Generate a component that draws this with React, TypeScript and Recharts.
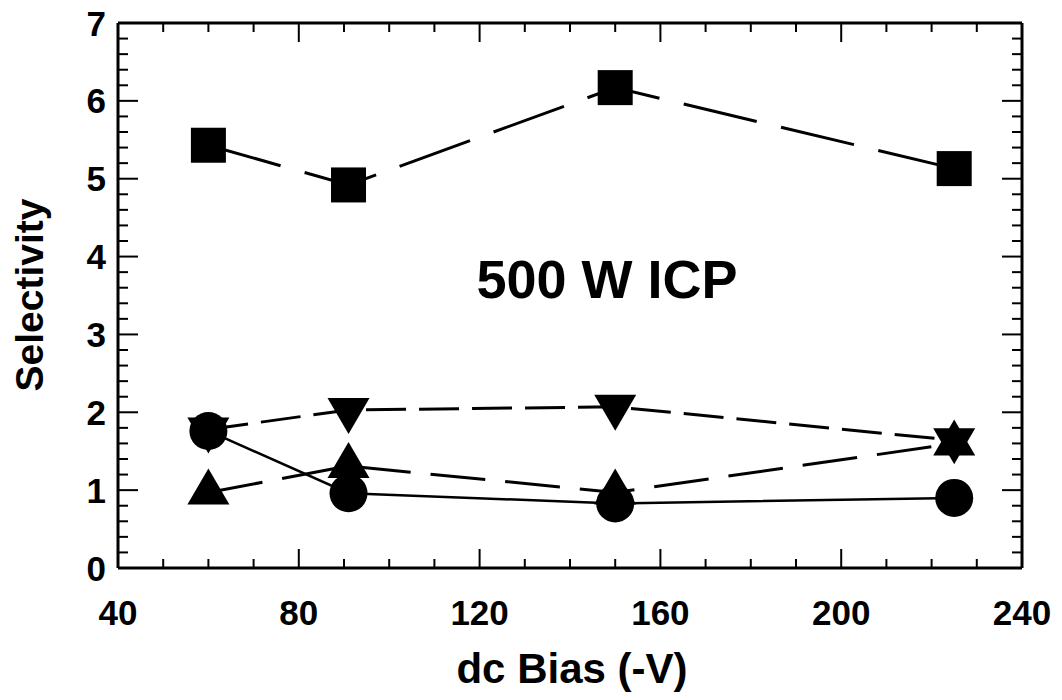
import React from "react";
import { LineChart, Line, XAxis, YAxis, Customized } from "recharts";

// dc bias values (-V) shared by every series
const biasVoltage = [60, 91, 150, 225];
const squareSelectivity = [5.43, 4.92, 6.17, 5.13];
const downTriangleSelectivity = [1.78, 2.03, 2.07, 1.64];
const upTriangleSelectivity = [0.97, 1.31, 0.97, 1.6];
const circleSelectivity = [1.76, 0.96, 0.83, 0.9];

const xMajorTicks = [40, 80, 120, 160, 200, 240];
const yMajorTicks = [0, 1, 2, 3, 4, 5, 6, 7];

const xMinorTicks = Array.from({ length: 21 }, (_, i) => 40 + i * 10);
const yMinorTicks = Array.from({ length: 36 }, (_, i) => Math.round(i * 2) / 10);

const W = 1062;
const H = 700;
const LEFT = 118;
const RIGHT = 1022;
const TOP = 23;
const BOTTOM = 568;
const FONT = "'Liberation Sans', Arial, Helvetica, sans-serif";

const toRows = (ys: number[]) => biasVoltage.map((x, i) => ({ x, y: ys[i] }));

const isXMajor = (v: number) => xMajorTicks.includes(v);
const isYMajor = (v: number) => yMajorTicks.some((m) => Math.abs(m - v) < 1e-6);

function BottomTick({ x, payload }: any) {
  const major = isXMajor(payload.value);
  return (
    <g>
      <line x1={x} x2={x} y1={BOTTOM} y2={BOTTOM - (major ? 19 : 9)} stroke="#000" strokeWidth={2} />
      {major && (
        <text x={x} y={625} textAnchor="middle" fontSize={35} fontWeight="bold" fontFamily={FONT} fill="#000">
          {payload.value}
        </text>
      )}
    </g>
  );
}

function TopTick({ x, payload }: any) {
  const major = isXMajor(payload.value);
  return <line x1={x} x2={x} y1={TOP} y2={TOP + (major ? 19 : 9)} stroke="#000" strokeWidth={2} />;
}

function LeftTick({ y, payload }: any) {
  const major = isYMajor(payload.value);
  return (
    <g>
      <line x1={LEFT} x2={LEFT + (major ? 20 : 10)} y1={y} y2={y} stroke="#000" strokeWidth={2} />
      {major && (
        <text x={106} y={y} dy="0.36em" textAnchor="end" fontSize={35} fontWeight="bold" fontFamily={FONT} fill="#000">
          {Math.round(payload.value)}
        </text>
      )}
    </g>
  );
}

function RightTick({ y, payload }: any) {
  const major = isYMajor(payload.value);
  return <line x1={RIGHT} x2={RIGHT - (major ? 20 : 10)} y1={y} y2={y} stroke="#000" strokeWidth={2} />;
}

const squareDot = ({ cx, cy, index }: any) => (
  <rect key={`sq-${index}`} x={cx - 17.5} y={cy - 17.5} width={35} height={35} fill="#000" />
);

const circleDot = ({ cx, cy, index }: any) => <circle key={`ci-${index}`} cx={cx} cy={cy} r={19} fill="#000" />;

// triangles centred on their centroid
const upDot = ({ cx, cy, index }: any) => (
  <polygon
    key={`up-${index}`}
    points={`${cx},${cy - 24} ${cx - 21},${cy + 12} ${cx + 21},${cy + 12}`}
    fill="#000"
  />
);

const downDot = ({ cx, cy, index }: any) => (
  <polygon
    key={`dn-${index}`}
    points={`${cx},${cy + 24} ${cx - 21},${cy - 12} ${cx + 21},${cy - 12}`}
    fill="#000"
  />
);

function Annotations() {
  return (
    <g fontFamily={FONT} fontWeight="bold" fill="#000">
      <text x={607} y={298} textAnchor="middle" fontSize={54}>
        500 W ICP
      </text>
      <text x={572} y={683} textAnchor="middle" fontSize={42}>
        dc Bias (-V)
      </text>
      <text x={43} y={295} textAnchor="middle" fontSize={39} transform="rotate(-90 43 295)">
        Selectivity
      </text>
    </g>
  );
}

const axisStyle = { stroke: "#000", strokeWidth: 3 };

export default function App() {
  return (
    <div style={{ position: "absolute", left: 0, top: 0, background: "#fff" }}>
      <LineChart width={W} height={H} margin={{ top: TOP - 1, right: W - RIGHT - 1, bottom: 72, left: 48 }}>
        <XAxis
          xAxisId="bottom"
          type="number"
          dataKey="x"
          domain={[40, 240]}
          ticks={xMinorTicks}
          interval={0}
          tick={<BottomTick />}
          tickLine={false}
          axisLine={axisStyle}
          height={60}
        />
        <XAxis
          xAxisId="top"
          orientation="top"
          type="number"
          dataKey="x"
          domain={[40, 240]}
          ticks={xMinorTicks}
          interval={0}
          tick={<TopTick />}
          tickLine={false}
          axisLine={axisStyle}
          height={1}
        />
        <YAxis
          yAxisId="left"
          type="number"
          domain={[0, 7]}
          ticks={yMinorTicks}
          interval={0}
          tick={<LeftTick />}
          tickLine={false}
          axisLine={axisStyle}
          width={70}
        />
        <YAxis
          yAxisId="right"
          orientation="right"
          type="number"
          domain={[0, 7]}
          ticks={yMinorTicks}
          interval={0}
          tick={<RightTick />}
          tickLine={false}
          axisLine={axisStyle}
          width={1}
        />
        {/* invisible series so the top / right frame axes are rendered */}
        <Line
          xAxisId="top"
          yAxisId="right"
          data={toRows(squareSelectivity)}
          dataKey="y"
          stroke="none"
          dot={false}
          activeDot={false}
          isAnimationActive={false}
        />
        <Line
          xAxisId="bottom"
          yAxisId="left"
          data={toRows(squareSelectivity)}
          dataKey="y"
          stroke="#000"
          strokeWidth={3}
          strokeDasharray="75 25"
          dot={squareDot}
          activeDot={false}
          isAnimationActive={false}
        />
        <Line
          xAxisId="bottom"
          yAxisId="left"
          data={toRows(downTriangleSelectivity)}
          dataKey="y"
          stroke="#000"
          strokeWidth={3}
          strokeDasharray="40 13"
          dot={downDot}
          activeDot={false}
          isAnimationActive={false}
        />
        <Line
          xAxisId="bottom"
          yAxisId="left"
          data={toRows(upTriangleSelectivity)}
          dataKey="y"
          stroke="#000"
          strokeWidth={3}
          strokeDasharray="55 20"
          dot={upDot}
          activeDot={false}
          isAnimationActive={false}
        />
        <Line
          xAxisId="bottom"
          yAxisId="left"
          data={toRows(circleSelectivity)}
          dataKey="y"
          stroke="#000"
          strokeWidth={2.5}
          dot={circleDot}
          activeDot={false}
          isAnimationActive={false}
        />
        <Customized component={Annotations} />
      </LineChart>
    </div>
  );
}
